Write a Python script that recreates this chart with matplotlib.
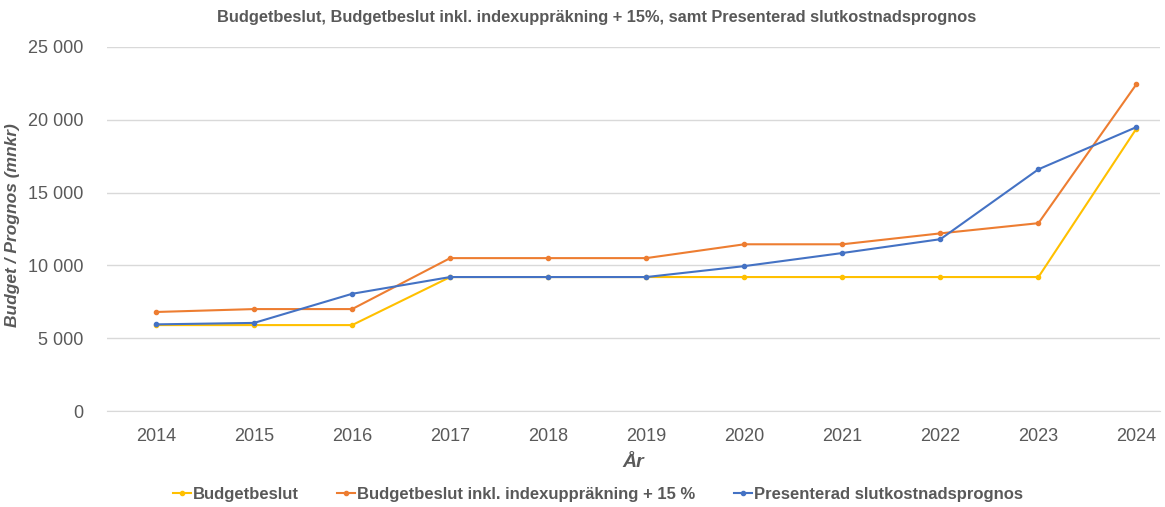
import matplotlib
matplotlib.use("Agg")
import matplotlib.pyplot as plt
from matplotlib.ticker import FuncFormatter

# ── data ──────────────────────────────────────────────────────────────────────
years = [2014, 2015, 2016, 2017, 2018, 2019, 2020, 2021, 2022, 2023, 2024]
budget = [5900, 5900, 5900, 9200, 9200, 9200, 9200, 9200, 9200, 9200, 19400]
budget_idx = [6800, 7000, 7000, 10500, 10500, 10500, 11450, 11450, 12200, 12900, 22450]
prognos = [5950, 6050, 8050, 9200, 9200, 9200, 9950, 10850, 11800, 16600, 19500]

labels = ["Budgetbeslut",
          "Budgetbeslut inkl. indexuppräkning + 15 %",
          "Presenterad slutkostnadsprognos"]
colors = ["#FFC000", "#ED7D31", "#4472C4"]

GREY = "#595959"
plt.rcParams["font.family"] = ["Liberation Sans", "DejaVu Sans"]

# ── figure ────────────────────────────────────────────────────────────────────
fig = plt.figure(figsize=(11.65, 5.07), dpi=100)
ax = fig.add_axes([107 / 1165, 1 - 411 / 507, (1160 - 107) / 1165, (411 - 47) / 507])

for vals, lab, c in zip([budget, budget_idx, prognos], labels, colors):
    ax.plot(years, vals, color=c, lw=1.5, marker="o", ms=3, label=lab)

ax.set_xlim(2013.5, 2024.24)
ax.set_ylim(0, 25000)
ax.set_yticks(range(0, 25001, 5000))
ax.yaxis.set_major_formatter(FuncFormatter(lambda v, p: f"{int(v):,}".replace(",", " ")))
ax.set_xticks(years)

ax.grid(axis="y", color="#D9D9D9", lw=1)
ax.set_axisbelow(True)
for s in ["top", "right", "left"]:
    ax.spines[s].set_visible(False)
ax.spines["bottom"].set_color("#D9D9D9")
ax.tick_params(length=0, labelsize=13, colors=GREY, pad=12)
ax.tick_params(axis="y", pad=17)

ax.set_xlabel("År", fontsize=14, fontweight="bold", style="italic", color=GREY, labelpad=7)
ax.set_ylabel("Budget / Prognos (mnkr)", fontsize=12.5, fontweight="bold", style="italic",
              color=GREY)
ax.yaxis.set_label_coords((20 - 107) / 1053, (411 - 225) / 364)

fig.text(0.512, 0.965, "Budgetbeslut, Budgetbeslut inkl. indexuppräkning + 15%, samt Presenterad slutkostnadsprognos",
         ha="center", va="center", fontsize=11.8, fontweight="bold", color=GREY)

leg = fig.legend(loc="center", bbox_to_anchor=(0.513, 0.025), ncol=3, frameon=False,
                 fontsize=12, handlelength=1.1, handletextpad=0.1, columnspacing=2.3)
for t in leg.get_texts():
    t.set_color(GREY)
    t.set_fontweight("bold")

fig.savefig("out.png", dpi=100, facecolor="white")
